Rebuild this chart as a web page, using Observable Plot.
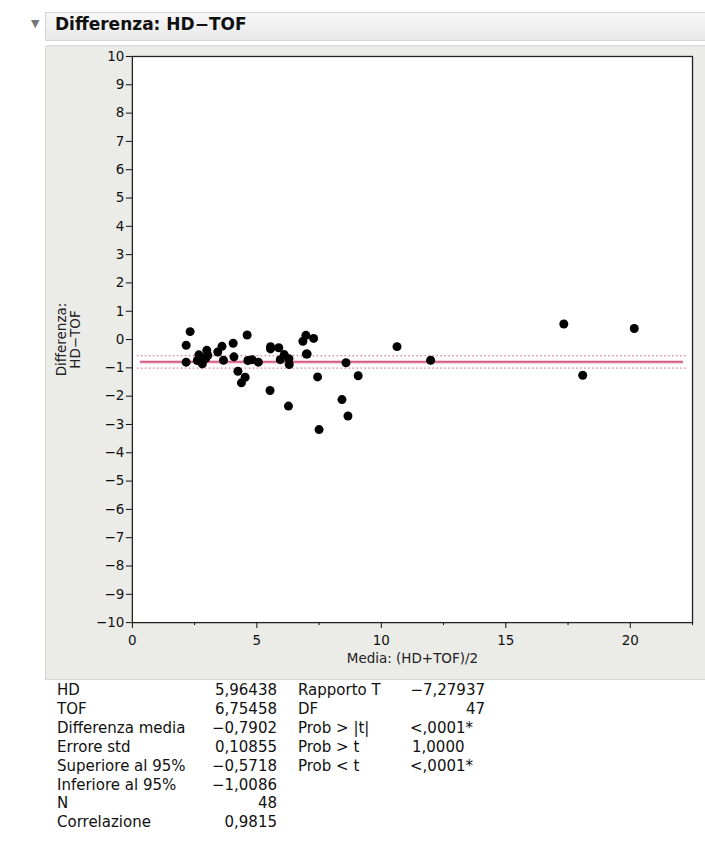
<!DOCTYPE html>
<html>
<head>
<meta charset="utf-8">
<script src="https://cdn.jsdelivr.net/npm/d3@7"></script>
<script src="https://cdn.jsdelivr.net/npm/@observablehq/plot@0.6"></script>
<style>
  html, body { margin: 0; padding: 0; background: #ffffff; }
  body { width: 705px; height: 855px; position: relative; overflow: hidden; font-family: "DejaVu Sans", "Open Sans", sans-serif; color: #111; }
  #hdr { position: absolute; left: 45px; top: 12px; width: 660px; height: 29px; box-sizing: border-box;
         background: linear-gradient(#f7f7f7, #e9e9e9); border: 1px solid #d4d4d4; border-right: none; }
  #tri { position: absolute; left: 31px; top: 17px; font-size: 11px; color: #777; }
  #title { position: absolute; left: 55px; top: 14px; font-size: 17px; font-weight: bold; color: #111; }
  #panel { position: absolute; left: 45px; top: 45px; width: 660px; height: 635px; box-sizing: border-box;
           background: #ebebe8; border: 1px solid #d6d6d4; border-right: none; border-top-left-radius: 4px; }
  #panel svg { position: absolute; left: -1px; top: -1px; }
  .st { position: absolute; font-size: 15px; line-height: 18px; white-space: nowrap; color: #111; }
  .r { text-align: right; }
</style>
</head>
<body>
<div id="hdr"></div>
<div id="tri">▼</div>
<div id="title">Differenza: HD−TOF</div>
<div id="panel"></div>
<div id="stats"></div>
<script>
// Mean of (HD+TOF)/2 for each subject
const media = [
  2.16, 2.32, 2.16, 2.67, 2.61, 2.81, 2.99, 3.03, 2.85, 3.43,
  3.60, 3.66, 4.05, 4.08, 4.24, 4.38, 4.53, 4.61, 4.64, 4.81,
  5.06, 5.53, 5.55, 5.55, 5.88, 5.94, 6.10, 6.27, 6.29, 6.30,
  6.85, 6.97, 6.99, 7.02, 7.28, 7.44, 7.50, 8.42, 8.58, 8.66,
  9.07, 10.63, 11.98, 17.33, 18.09, 20.16, 2.75, 2.95
];
// Difference HD-TOF for each subject
const differenza = [
  -0.20, 0.28, -0.80, -0.54, -0.74, -0.86, -0.38, -0.56, -0.71, -0.44,
  -0.24, -0.73, -0.13, -0.61, -1.12, -1.53, -1.33, 0.16, -0.74, -0.71,
  -0.80, -1.80, -0.33, -0.25, -0.29, -0.71, -0.53, -2.35, -0.68, -0.88,
  -0.06, 0.15, -0.51, -0.51, 0.04, -1.32, -3.18, -2.12, -0.82, -2.70,
  -1.28, -0.25, -0.73, 0.55, -1.26, 0.39, -0.62, -0.66
];
// Reference lines: mean difference and 95% limits
const refMean = [-0.7902];
const refCI = [-0.5718, -1.0086];
const xDomain = [0, 22.5];
const yDomain = [-10, 10];
const yTicks = [-10,-9,-8,-7,-6,-5,-4,-3,-2,-1,0,1,2,3,4,5,6,7,8,9,10];
const xTicks = [0, 5, 10, 15, 20];
const xMinorTicks = [2.5, 7.5, 12.5, 17.5, 22.5];
const yLabel = ["Differenza:\nHD−TOF"];
const xLabel = ["Media: (HD+TOF)/2"];

// Stats table
const statLabels1 = ["HD", "TOF", "Differenza media", "Errore std", "Superiore al 95%", "Inferiore al 95%", "N", "Correlazione"];
const statValues1 = ["5,96438", "6,75458", "−0,7902", "0,10855", "−0,5718", "−1,0086", "48", "0,9815"];
const statLabels2 = ["Rapporto T", "DF", "Prob > |t|", "Prob > t", "Prob < t"];
const statValues2 = ["−7,27937", "47", "<,0001*", "1,0000", "<,0001*"];

const points = media.map((m, i) => ({m, d: differenza[i]}));

const chart = Plot.plot({
  width: 660,
  height: 635,
  marginLeft: 87,
  marginRight: 12,
  marginTop: 11,
  marginBottom: 57,
  style: {background: "transparent", fontFamily: "DejaVu Sans, sans-serif", fontSize: "13.5px", color: "#111"},
  x: {domain: xDomain},
  y: {domain: yDomain},
  marks: [
    Plot.frame({fill: "white", stroke: "none"}),
    Plot.ruleY(refCI, {stroke: "#d4588a", strokeWidth: 1, strokeDasharray: "1.5,2.5", insetLeft: 5, insetRight: 6}),
    Plot.ruleY(refMean, {stroke: "#f4c4d4", strokeWidth: 3.5, insetLeft: 8, insetRight: 9}),
    Plot.ruleY(refMean, {stroke: "#c8386a", strokeWidth: 1.4, insetLeft: 8, insetRight: 9}),
    Plot.dot(points, {x: "m", y: "d", r: 4.5, fill: "black", stroke: "none"}),
    Plot.frame({stroke: "#222", strokeWidth: 1.3}),
    Plot.axisY({ticks: yTicks, tickSize: 6, tickPadding: 2, label: null, fontSize: 13.5, fill: "#111"}),
    Plot.axisX({ticks: xTicks, tickSize: 6, tickPadding: 7, label: null, fontSize: 13.5, fill: "#111"}),
    Plot.axisX({ticks: xMinorTicks, tickSize: 3, tickFormat: () => "", label: null}),
    Plot.text(yLabel, {frameAnchor: "left", textAnchor: "middle", rotate: -90, dx: -64, fontSize: 13.5, lineHeight: 1.0, fill: "#222"}),
    Plot.text(xLabel, {frameAnchor: "bottom", dy: 40, fontSize: 13.5, fill: "#222"})
  ]
});
document.getElementById("panel").appendChild(chart);

const stats = document.getElementById("stats");
const rowTop = (i) => 681 + i * 18.9;
function add(text, left, top, cls, width) {
  const d = document.createElement("div");
  d.className = "st" + (cls ? " " + cls : "");
  d.textContent = text;
  d.style.left = left + "px";
  d.style.top = top + "px";
  if (width) d.style.width = width + "px";
  stats.appendChild(d);
}
statLabels1.forEach((t, i) => add(t, 57, rowTop(i)));
statValues1.forEach((t, i) => add(t, 177, rowTop(i), "r", 100));
statLabels2.forEach((t, i) => add(t, 298, rowTop(i)));
add(statValues2[0], 385, rowTop(0), "r", 100);
add(statValues2[1], 385, rowTop(1), "r", 100);
add(statValues2[2], 410, rowTop(2));
add(statValues2[3], 412, rowTop(3));
add(statValues2[4], 410, rowTop(4));
</script>
</body>
</html>
